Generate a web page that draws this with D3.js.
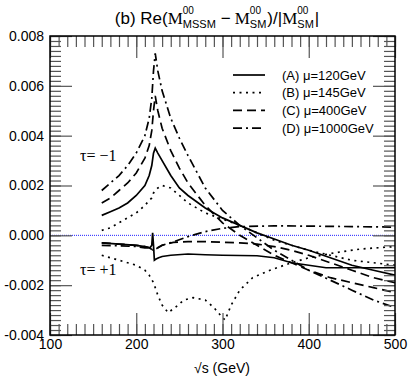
<!DOCTYPE html>
<html>
<head>
  <meta charset="utf-8">
  <title></title>
  <style>
    body { margin: 0; background: #fff; }
    text { font-family: "Liberation Sans", Arial, sans-serif; fill: #000; }
    .curve { fill: none; stroke: #000; stroke-width: 1.7px; }
    .tick line { stroke: #555; stroke-width: 1.2px; }
  </style>
</head>
<body>
<svg width="409" height="376"></svg>
<script src="https://cdn.jsdelivr.net/npm/d3@7"></script>
<script>

// x ticks / y ticks
var xTicks = [100, 200, 300, 400, 500];
var yTicks = [-0.004, -0.002, 0.000, 0.002, 0.004, 0.006, 0.008];

// tau = -1 (upper branch), common energies
var sUp = [160,170,180,190,200,210,215,218,220,222,225,230,240,250,260,280,300,320,340,360,380,400,425,450,475,500];
var aUp = [0.0008,0.00095,0.0011,0.0013,0.0016,0.0020,0.0024,0.0028,0.0033,0.0035,0.0033,0.0030,0.0024,0.0019,0.0016,0.0011,0.0007,0.0004,0.0001,-0.00015,-0.0004,-0.0006,-0.0009,-0.0012,-0.0014,-0.0016];
var bUp = [0.0002,0.0003,0.0005,0.0007,0.0009,0.0012,0.0014,0.0015,0.0017,0.0018,0.0019,0.0020,0.0019,0.0016,0.0013,0.0009,0.00065,0.0004,0.0001,-0.0002,-0.0004,-0.0006,-0.0008,-0.001,-0.0011,-0.0012];
var cUp = [0.0013,0.0015,0.0018,0.0021,0.0025,0.0031,0.0036,0.0042,0.0050,0.0056,0.0050,0.0043,0.0034,0.0027,0.0021,0.0012,0.0005,0.0000,-0.0004,-0.0008,-0.0011,-0.0014,-0.0017,-0.0019,-0.0021,-0.0023];
var dUp = [0.0018,0.0021,0.0024,0.0028,0.0033,0.0040,0.0047,0.0055,0.0066,0.0073,0.0066,0.0058,0.0047,0.0039,0.0032,0.0019,0.0010,0.0004,-0.0001,-0.0006,-0.0010,-0.0014,-0.0018,-0.0022,-0.0026,-0.0029];

// tau = +1 (lower branch)
var sDnA = [160,180,200,210,216,218,219,220,221,223,226,230,240,260,280,300,340,360,380,400,420,450,500];
var aDn  = [-0.0003,-0.00035,-0.0004,-0.00045,-0.0005,-0.0004,0.0001,-0.0004,-0.001,-0.00095,-0.0009,-0.00085,-0.0008,-0.00075,-0.00078,-0.0008,-0.00082,-0.0009,-0.0011,-0.0012,-0.0013,-0.0013,-0.0013];
var sDnB = [160,170,180,190,200,210,215,220,225,230,237,245,255,266,280,290,300,303,310,320,335,355,380,400,430,460,500];
var bDn  = [-0.0008,-0.0009,-0.001,-0.0011,-0.0012,-0.0014,-0.0016,-0.0019,-0.0024,-0.0028,-0.0031,-0.0029,-0.0026,-0.0025,-0.0026,-0.0029,-0.0033,-0.0034,-0.0028,-0.0022,-0.0017,-0.0014,-0.0011,-0.0009,-0.0007,-0.00055,-0.00045];
var sDnC = [160,180,200,210,215,220,225,230,243,260,280,300,320,340,360,380,400,425,450,475,500];
var cDn  = [-0.0003,-0.00035,-0.0004,-0.00045,-0.0005,-0.0006,-0.0005,-0.0004,-0.00028,-0.00025,-0.00025,-0.00028,-0.0003,-0.00035,-0.00045,-0.0006,-0.0008,-0.0011,-0.0014,-0.0017,-0.0019];
var sDnD = [160,180,200,210,215,220,225,230,243,260,280,300,320,360,400,450,500];
var dDn  = [-0.0004,-0.00042,-0.00045,-0.0005,-0.0005,-0.0006,-0.0005,-0.0004,-0.00026,-0.00005,0.00015,0.00028,0.00035,0.00038,0.00037,0.00035,0.00033];

var legendLabels = ["(A) \u03bc=120GeV", "(B) \u03bc=145GeV", "(C) \u03bc=400GeV", "(D) \u03bc=1000GeV"];
var dashes = [null, "2,4.5", "9,5", "9,4,2,4"];

var svg = d3.select("svg");
var pL = 50, pR = 395, pT = 36, pB = 335;

var x = d3.scaleLinear().domain([100, 500]).range([pL, pR]);
var y = d3.scaleLinear().domain([-0.004, 0.008]).range([pB, pT]);

svg.append("clipPath").attr("id", "clip")
  .append("rect").attr("x", pL).attr("y", pT).attr("width", pR - pL).attr("height", pB - pT);

// zero line
svg.append("line")
  .attr("x1", pL).attr("x2", pR)
  .attr("y1", y(0)).attr("y2", y(0))
  .attr("stroke", "#1f1fff").attr("stroke-width", 1)
  .attr("stroke-dasharray", "1,1");

var line = d3.line()
  .x(function(d) { return x(d[0]); })
  .y(function(d) { return y(d[1]); });

function zipS(s, v) { return s.map(function(e, i) { return [e, v[i]]; }); }

var series = [
  [zipS(sUp, aUp), 0], [zipS(sUp, bUp), 1], [zipS(sUp, cUp), 2], [zipS(sUp, dUp), 3],
  [zipS(sDnA, aDn), 0], [zipS(sDnB, bDn), 1], [zipS(sDnC, cDn), 2], [zipS(sDnD, dDn), 3]
];

var g = svg.append("g").attr("clip-path", "url(#clip)");
series.forEach(function(sr) {
  g.append("path")
    .attr("class", "curve")
    .attr("d", line(sr[0]))
    .attr("stroke-dasharray", dashes[sr[1]]);
});

// axes, ticks pointing inwards
var xMinor = d3.range(100, 501, 10);
var yMinor = d3.range(-40, 81, 2).map(function(d) { return d / 10000; });
var fmt = function(d) { return d.toFixed(3); };

svg.append("g").attr("transform", "translate(0," + pB + ")")
  .call(d3.axisBottom(x).tickValues(xMinor).tickSize(-11).tickFormat(""));
svg.append("g").attr("transform", "translate(0," + pB + ")")
  .call(d3.axisBottom(x).tickValues(xTicks).tickSize(-22).tickPadding(4))
  .selectAll("text").style("font-size", "14px");
svg.append("g").attr("transform", "translate(0," + pT + ")")
  .call(d3.axisTop(x).tickValues(xMinor).tickSize(-11).tickFormat(""));
svg.append("g").attr("transform", "translate(0," + pT + ")")
  .call(d3.axisTop(x).tickValues(xTicks).tickSize(-22).tickFormat(""));

svg.append("g").attr("transform", "translate(" + pL + ",0)")
  .call(d3.axisLeft(y).tickValues(yMinor).tickSize(-11).tickFormat(""));
svg.append("g").attr("transform", "translate(" + pL + ",0)")
  .call(d3.axisLeft(y).tickValues(yTicks).tickSize(-22).tickPadding(6).tickFormat(fmt))
  .selectAll("text").style("font-size", "14px");
svg.append("g").attr("transform", "translate(" + pR + ",0)")
  .call(d3.axisRight(y).tickValues(yMinor).tickSize(-11).tickFormat(""));
svg.append("g").attr("transform", "translate(" + pR + ",0)")
  .call(d3.axisRight(y).tickValues(yTicks).tickSize(-22).tickFormat(""));

svg.selectAll(".domain").remove();

svg.append("rect")
  .attr("x", pL).attr("y", pT)
  .attr("width", pR - pL).attr("height", pB - pT)
  .attr("fill", "none").attr("stroke", "#000").attr("stroke-width", 1.5);

// axis title
svg.append("text")
  .attr("x", 222).attr("y", 373)
  .attr("text-anchor", "middle")
  .style("font-size", "14px")
  .text("\u221as (GeV)");

// tau labels
svg.append("text").attr("x", 80).attr("y", 161)
  .style("font-family", "'Liberation Serif', serif").style("font-size", "16px")
  .text("\u03c4= \u22121");
svg.append("text").attr("x", 80).attr("y", 275)
  .style("font-family", "'Liberation Serif', serif").style("font-size", "16px")
  .text("\u03c4= +1");

// legend
var leg = svg.append("g");
legendLabels.forEach(function(t, i) {
  var ly = 75 + i * 17.7;
  leg.append("line")
    .attr("x1", 233).attr("x2", 265).attr("y1", ly).attr("y2", ly)
    .attr("class", "curve")
    .attr("stroke-dasharray", dashes[i]);
  leg.append("text")
    .attr("x", 282).attr("y", ly + 4.5)
    .style("font-size", "13px")
    .text(t);
});

// title, built piece by piece
var title = svg.append("g");
var tx = 0, base = 24;
function piece(txt, size, dy, fam) {
  var t = title.append("text").attr("x", tx).attr("y", base + dy)
    .style("font-size", size + "px").text(txt);
  if (fam) t.style("font-family", fam);
  return t.node().getComputedTextLength();
}
function stack(sup, sub) {
  var w1 = piece(sup, 10, -10);
  var w2 = piece(sub, 11, 4);
  tx += Math.max(w1, w2) + 1;
}
tx += piece("(b) Re(", 17, 0);
tx += piece("M", 17, 0, "'Liberation Serif', serif");
stack("00", "MSSM");
tx += 4;
tx += piece("\u2212", 17, 0);
tx += 4;
tx += piece("M", 17, 0, "'Liberation Serif', serif");
stack("00", "SM");
tx += piece(")/|", 17, 0);
tx += piece("M", 17, 0, "'Liberation Serif', serif");
stack("00", "SM");
tx += piece("|", 17, 0);
title.attr("transform", "translate(" + (217 - tx / 2) + ",0)");

</script>
</body>
</html>
